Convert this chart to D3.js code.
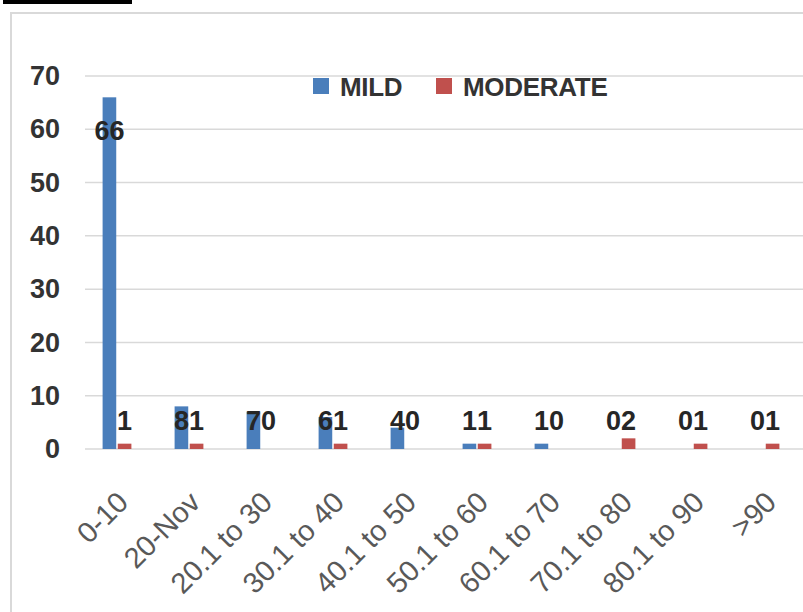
<!DOCTYPE html>
<html>
<head>
<meta charset="utf-8">
<script src="https://cdn.jsdelivr.net/npm/d3@7"></script>
<style>
  body { margin: 0; background: #fff; }
  svg { display: block; }
</style>
</head>
<body>
<div id="chart"></div>
<script>
// chart data
const categories = ['0-10', '20-Nov', '20.1 to 30', '30.1 to 40', '40.1 to 50',
    '50.1 to 60', '60.1 to 70', '70.1 to 80', '80.1 to 90', '>90'];
const seriesNames = ['MILD', 'MODERATE'];
const mildValues = [66, 8, 7, 6, 4, 1, 1, 0, 0, 0];
const moderateValues = [1, 1, 0, 1, 0, 1, 0, 2, 1, 1];
const yTicks = [0, 10, 20, 30, 40, 50, 60, 70];

const colors = { MILD: '#4a7ebb', MODERATE: '#c0504d' };
const W = 803, H = 612;
const textColor = '#333333';

const svg = d3.select('#chart').append('svg')
    .attr('width', W)
    .attr('height', H);

// caption line above the chart box, mostly outside the picture
svg.append('text')
    .attr('x', 3)
    .attr('y', -3)
    .attr('font-family', 'Liberation Serif')
    .attr('font-weight', 'bold')
    .attr('font-size', 22)
    .attr('fill', '#000')
    .text('Figure 4');
svg.append('rect')
    .attr('x', 3).attr('y', 0)
    .attr('width', 129).attr('height', 4)
    .attr('fill', '#000');

// chart frame
svg.append('rect')
    .attr('x', 11).attr('y', 13)
    .attr('width', 810).attr('height', 640)
    .attr('fill', 'none')
    .attr('stroke', '#d9d9d9')
    .attr('stroke-width', 2);

// scales
const y = d3.scaleLinear().domain([0, 70]).range([449, 76]);
const x0 = d3.scaleBand().domain(categories).range([81, 801])
    .paddingInner(0.6).paddingOuter(0.3);
const x1 = d3.scaleBand().domain(seriesNames).range([0, x0.bandwidth()])
    .paddingInner(0.1);

// gridlines
svg.append('g')
    .selectAll('line')
    .data(yTicks)
    .enter().append('line')
    .attr('x1', 85).attr('x2', W)
    .attr('y1', d => y(d)).attr('y2', d => y(d))
    .attr('stroke', '#d9d9d9')
    .attr('stroke-width', 1.5);

// y axis labels
const yAxis = svg.append('g')
    .attr('transform', 'translate(60,0)')
    .call(d3.axisLeft(y).tickValues(yTicks).tickSize(0).tickPadding(0));
yAxis.select('.domain').remove();
yAxis.selectAll('text')
    .attr('font-family', 'Liberation Sans')
    .attr('font-weight', 'bold')
    .attr('font-size', 27)
    .attr('fill', textColor);

// bars
const rows = categories.map((c, i) => ({
    cat: c,
    vals: [
        { key: 'MILD', value: mildValues[i] },
        { key: 'MODERATE', value: moderateValues[i] }
    ]
}));

const groups = svg.append('g')
    .selectAll('g')
    .data(rows)
    .enter().append('g')
    .attr('transform', d => `translate(${x0(d.cat)},0)`);

groups.selectAll('rect')
    .data(d => d.vals)
    .enter().append('rect')
    .attr('x', d => x1(d.key))
    .attr('y', d => y(d.value))
    .attr('width', x1.bandwidth())
    .attr('height', d => y(0) - y(d.value))
    .attr('fill', d => colors[d.key]);

// data labels (tall bar: inside its top, short bars: just above the axis)
groups.selectAll('text')
    .data(d => d.vals)
    .enter().append('text')
    .attr('x', d => x1(d.key) + x1.bandwidth() / 2)
    .attr('y', d => Math.min(y(d.value) + 43, y(3.6)))
    .attr('text-anchor', 'middle')
    .attr('font-family', 'Liberation Sans')
    .attr('font-weight', 'bold')
    .attr('font-size', 27)
    .attr('fill', '#262626')
    .text(d => d.value);

// x axis labels
svg.append('g')
    .selectAll('text')
    .data(categories)
    .enter().append('text')
    .attr('transform', d => `translate(${x0(d) + x0.bandwidth() / 2 + 13},504) rotate(-45)`)
    .attr('text-anchor', 'end')
    .attr('font-family', 'Liberation Sans')
    .attr('font-size', 29)
    .attr('fill', '#595959')
    .text(d => d);

// legend
const legend = svg.append('g');
const legendX = [313, 436];
seriesNames.forEach((name, i) => {
    legend.append('rect')
        .attr('x', legendX[i]).attr('y', 78)
        .attr('width', 16).attr('height', 16)
        .attr('fill', colors[name]);
    legend.append('text')
        .attr('x', legendX[i] + 27)
        .attr('y', 96)
        .attr('font-family', 'Liberation Sans')
        .attr('font-weight', 'bold')
        .attr('font-size', 26)
        .attr('letter-spacing', -0.3)
        .attr('fill', textColor)
        .text(name);
});
</script>
</body>
</html>
